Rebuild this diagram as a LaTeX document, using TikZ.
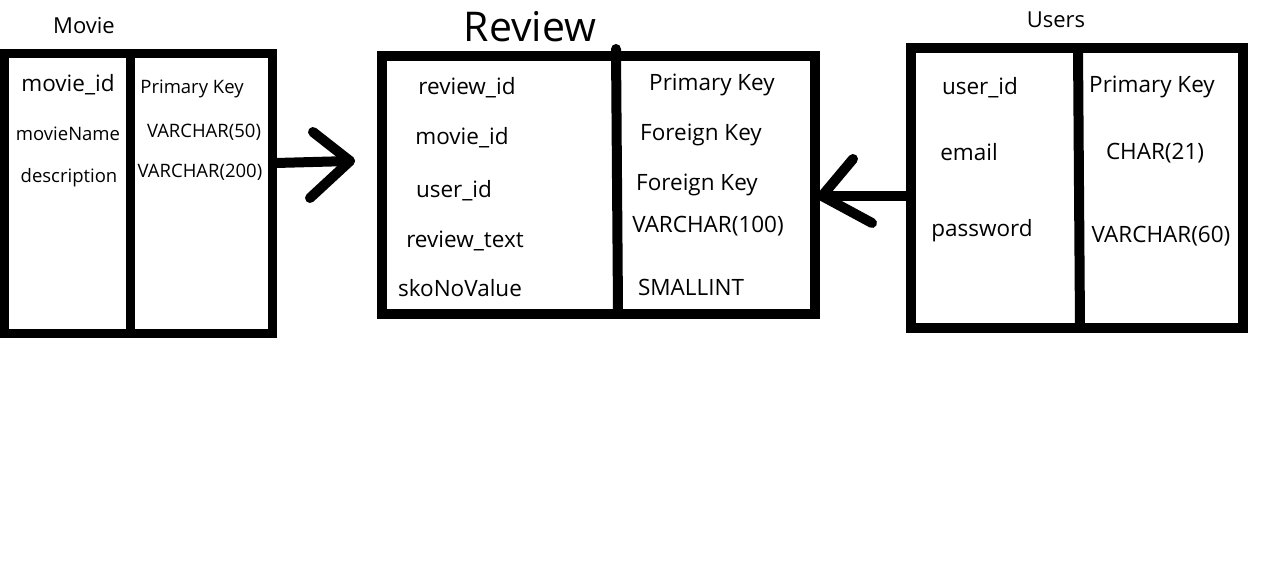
\documentclass[tikz,border=0pt]{standalone}
\usepackage{fontspec}
\setmainfont{Open Sans}
\begin{document}
\begin{tikzpicture}[x=1pt,y=-1pt,
  tbl/.style={draw=black,fill=white,inner sep=0pt,outer sep=0pt},
  divline/.style={line width=9.5pt,line cap=round},
  conn/.style={line width=10pt,line cap=round,line join=round},
  sm/.style={font=\fontsize{18.5}{22}\selectfont,inner sep=0pt},
  md/.style={font=\fontsize{22.5}{27}\selectfont,inner sep=0pt},
  ttl/.style={font=\fontsize{22}{26}\selectfont,inner sep=0pt}]
\useasboundingbox[fill=white] (0,0) rectangle (1284,588);

% Movie table
\node[tbl,line width=9pt,minimum width=267.5pt,minimum height=280pt] (movie) at (138.25,193.5) {};
\coordinate (mvt) at (130.5,53.5);
\coordinate (mvb) at (130.5,333.5);
\draw[line width=9pt] (mvt) -- (mvb);
\node[ttl] (movieT) at (84,26) {Movie};
\node[md] (m1) at (68,85) {movie\_id};
\node[sm] (m2) at (68,134) {movieName};
\node[sm] (m3) at (69,178) {description};
\node[sm] (m4) at (192,89) {Primary Key};
\node[sm] (m5) at (204,132) {VARCHAR(50)};
\node[sm] (m6) at (200,172) {VARCHAR(200)};

% Review table
\node[tbl,line width=10pt,minimum width=433pt,minimum height=257.5pt] (review) at (598.5,184.75) {};
\coordinate (rvt) at (616,49);
\coordinate (rvb) at (618,310);
\draw[divline,line width=10pt] (rvt) -- (rvb);
\node[font=\fontsize{41}{48}\selectfont,inner sep=0pt] (reviewT) at (530,27) {Review};
\node[md] (r1) at (467,88) {review\_id};
\node[md] (r2) at (462,138) {movie\_id};
\node[md] (r3) at (454,191) {user\_id};
\node[md] (r4) at (465,241) {review\_text};
\node[md] (r5) at (460,288) {skoNoValue};
\node[md] (r6) at (712,85) {Primary Key};
\node[md] (r7) at (701,135) {Foreign Key};
\node[md] (r8) at (697,185) {Foreign Key};
\node[md] (r9) at (708,226) {VARCHAR(100)};
\node[md] (r10) at (691,287) {SMALLINT};

% Users table
\node[tbl,line width=10pt,minimum width=332pt,minimum height=280pt] (users) at (1077,188) {};
\coordinate (uvt) at (1078,48);
\coordinate (uvb) at (1080,328);
\draw[line width=10pt] (uvt) -- (uvb);
\node[ttl] (usersT) at (1056,20) {Users};
\node[md] (u1) at (980,88) {user\_id};
\node[md] (u2) at (969,152) {email};
\node[md] (u3) at (982,231) {password};
\node[md] (u4) at (1152,87) {Primary Key};
\node[md] (u5) at (1155,153) {CHAR(21)};
\node[md] (u6) at (1161,236) {VARCHAR(60)};

% Connector Movie -> Review
\coordinate (a1s) at (276,163);
\coordinate (a1t) at (350,161);
\draw[conn] (a1s) -- (a1t);
\draw[conn] (313,132) -- (a1t) -- (310,198);

% Connector Users -> Review
\coordinate (a2s) at (906,196);
\coordinate (a2t) at (822,196);
\draw[conn] (a2s) -- (a2t);
\draw[conn] (853,159) -- (a2t) -- (872,223);
\end{tikzpicture}
\end{document}
